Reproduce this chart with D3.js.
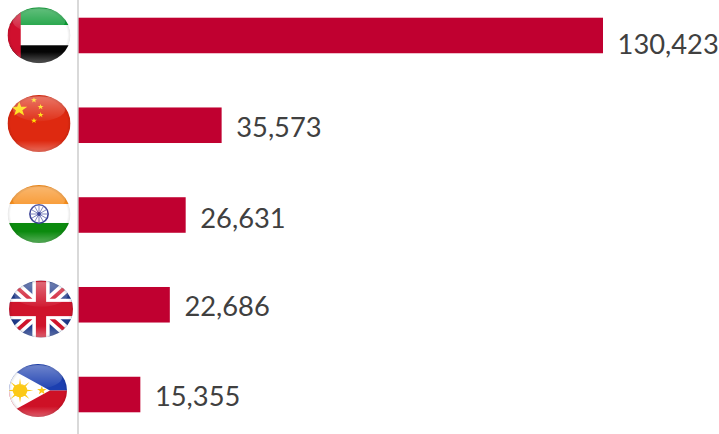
<!DOCTYPE html>
<html>
<head>
<meta charset="utf-8">
<script src="https://cdn.jsdelivr.net/npm/d3@7/dist/d3.min.js"></script>
<style>
html,body{margin:0;padding:0;background:#fff;overflow:hidden}
svg{display:block}
</style>
</head>
<body>
<svg id="chart" width="719" height="434"></svg>
<script>
const countries = ["UAE", "China", "India", "UK", "Philippines"];
const visitors = [130423, 35573, 26631, 22686, 15355];

const width = 719, height = 434;
const barColor = "#c00030", axisColor = "#d9d9d9", labelColor = "#404040";

const svg = d3.select("#chart");
const defs = svg.append("defs");

const x = d3.scaleLinear().domain([0, 130423]).range([78.6, 603]);
const y = d3.scaleBand().domain(countries).range([-9.4, 439.4]).paddingInner(0.604).paddingOuter(0.302);

// Vertical baseline running the full height of the plot
svg.append("line").attr("x1", 78).attr("x2", 78).attr("y1", 0).attr("y2", height)
  .attr("stroke", axisColor).attr("stroke-width", 2);

svg.selectAll("rect.bar").data(countries).join("rect")
  .attr("class", "bar")
  .attr("x", x(0))
  .attr("y", d => y(d))
  .attr("width", (d, i) => x(visitors[i]) - x(0))
  .attr("height", y.bandwidth())
  .attr("fill", barColor);

// The longest bar's label sits a little lower than the rest
const labelDrop = {UAE: 19, China: 11.5, India: 12.5, UK: 11.5, Philippines: 11.5};
svg.selectAll("text.value").data(countries).join("text")
  .attr("class", "value")
  .attr("x", (d, i) => x(visitors[i]) + 14.6)
  .attr("y", d => y(d) + y.bandwidth() / 2 + labelDrop[d])
  .attr("font-family", "Lato, sans-serif")
  .attr("font-size", 27.3)
  .attr("fill", labelColor)
  .text((d, i) => d3.format(",")(visitors[i]));

// ---- round glossy flag badges, each drawn in a unit circle ----
const clip = defs.append("clipPath").attr("id", "disc");
clip.append("circle").attr("r", 1);

const shineTop = defs.append("linearGradient").attr("id", "shineTop").attr("x1", 0).attr("x2", 0).attr("y1", 0).attr("y2", 1);
shineTop.append("stop").attr("offset", 0).attr("stop-color", "#fff").attr("stop-opacity", 0.36);
shineTop.append("stop").attr("offset", 1).attr("stop-color", "#fff").attr("stop-opacity", 0.04);

const shineLow = defs.append("linearGradient").attr("id", "shineLow").attr("x1", 0).attr("x2", 0).attr("y1", 0).attr("y2", 1);
shineLow.append("stop").attr("offset", 0.8).attr("stop-color", "#fff").attr("stop-opacity", 0);
shineLow.append("stop").attr("offset", 1).attr("stop-color", "#fff").attr("stop-opacity", 0.32);

const rim = defs.append("radialGradient").attr("id", "rim");
rim.append("stop").attr("offset", 0.9).attr("stop-color", "#000").attr("stop-opacity", 0);
rim.append("stop").attr("offset", 1).attr("stop-color", "#000").attr("stop-opacity", 0.1);

const starPath = r => d3.range(10).map(i => {
  const a = -Math.PI / 2 + i * Math.PI / 5, q = i % 2 ? r * 0.4 : r;
  return (i ? "L" : "M") + (q * Math.cos(a)) + "," + (q * Math.sin(a));
}).join("") + "Z";

const box = (g, fill, x0, y0, w, h) => g.append("rect")
  .attr("x", x0).attr("y", y0).attr("width", w).attr("height", h).attr("fill", fill);

const painters = {
  UAE(g) {
    box(g, "#089a32", -1, -1, 2, 0.64);
    box(g, "#ffffff", -1, -0.36, 2, 0.72);
    box(g, "#050505", -1, 0.36, 2, 0.64);
    box(g, "#d0102e", -1, -1, 0.42, 2);
  },
  China(g) {
    box(g, "#de2910", -1, -1, 2, 2);
    const stars = [[-0.63, -0.5, 0.27], [-0.16, -0.82, 0.1], [0.05, -0.58, 0.1], [0.05, -0.3, 0.1], [-0.16, -0.1, 0.1]];
    stars.forEach(s => g.append("path").attr("d", starPath(s[2]))
      .attr("transform", `translate(${s[0]},${s[1]})`).attr("fill", "#ffde00"));
  },
  India(g) {
    box(g, "#f78f1e", -1, -1, 2, 0.66);
    box(g, "#ffffff", -1, -0.34, 2, 0.65);
    box(g, "#0b8a0e", -1, 0.31, 2, 0.69);
    const wheel = g.append("g").attr("transform", "scale(1,1.09)");
    wheel.append("circle").attr("r", 0.29).attr("fill", "none").attr("stroke", "#3a4296").attr("stroke-width", 0.05);
    d3.range(12).forEach(i => {
      const a = i * Math.PI / 6;
      wheel.append("line").attr("x2", 0.27 * Math.cos(a)).attr("y2", 0.27 * Math.sin(a))
        .attr("stroke", "#5a62ac").attr("stroke-width", 0.025);
    });
    wheel.append("circle").attr("r", 0.06).attr("fill", "#3a4296");
  },
  UK(g) {
    box(g, "#1f3a8a", -1, -1, 2, 2);
    [[-1, -1, 1, 1], [-1, 1, 1, -1]].forEach(c => {
      g.append("line").attr("x1", c[0]).attr("y1", c[1]).attr("x2", c[2]).attr("y2", c[3])
        .attr("stroke", "#fff").attr("stroke-width", 0.36);
      g.append("line").attr("x1", c[0]).attr("y1", c[1]).attr("x2", c[2]).attr("y2", c[3])
        .attr("stroke", "#cf142b").attr("stroke-width", 0.13);
    });
    box(g, "#ffffff", -0.27, -1, 0.54, 2);
    box(g, "#ffffff", -1, -0.36, 2, 0.72);
    box(g, "#cf142b", -0.16, -1, 0.32, 2);
    box(g, "#cf142b", -1, -0.25, 2, 0.5);
  },
  Philippines(g) {
    box(g, "#1c3fb0", -1, -1, 2, 1);
    box(g, "#ce1126", -1, 0, 2, 1);
    g.append("path").attr("d", "M0.41,0L-1.2,-0.97L-1.2,0.97Z").attr("fill", "#fff");
    const sun = g.append("g").attr("transform", "translate(-0.62,0)");
    d3.range(8).forEach(i => {
      sun.append("path").attr("d", "M-0.07,0L0.07,0L0,-0.46Z")
        .attr("transform", `rotate(${i * 45})`).attr("fill", "#fcc916");
    });
    sun.append("circle").attr("r", 0.25).attr("fill", "#fcc916");
    g.append("path").attr("d", starPath(0.17)).attr("transform", "translate(0.13,0)").attr("fill", "#fcc916");
  }
};

const discs = {
  UAE: [39, 35.2, 31.5, 28],
  China: [39, 123.5, 31.5, 28.5],
  India: [39, 214, 31.5, 29],
  UK: [41, 309, 32, 28.5],
  Philippines: [38, 390.5, 29, 26.5]
};

countries.forEach(name => {
  const [cx, cy, rx, ry] = discs[name];
  const flag = svg.append("g").attr("class", "flag")
    .attr("transform", `translate(${cx},${cy}) scale(${rx},${ry})`);
  const body = flag.append("g").attr("clip-path", "url(#disc)");
  painters[name](body);
  // Glassy highlights over the artwork
  body.append("ellipse").attr("cy", -0.52).attr("rx", 0.84).attr("ry", 0.44).attr("fill", "url(#shineTop)");
  body.append("rect").attr("x", -1).attr("y", -1).attr("width", 2).attr("height", 2).attr("fill", "url(#shineLow)");
  body.append("circle").attr("r", 1).attr("fill", "url(#rim)");
});
</script>
</body>
</html>
